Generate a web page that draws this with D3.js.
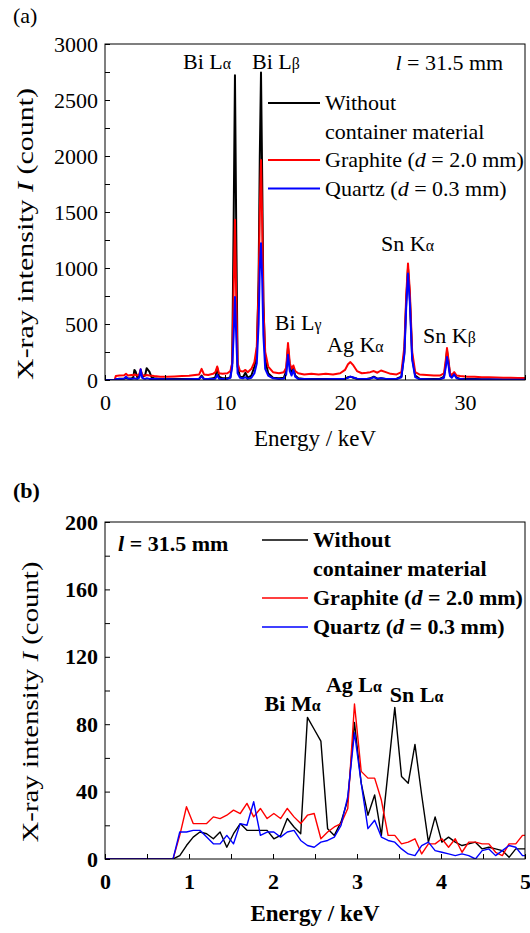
<!DOCTYPE html>
<html>
<head>
<meta charset="utf-8">
<script src="https://cdn.jsdelivr.net/npm/d3@7"></script>
<style>
  body { margin: 0; background: #fff; }
  text { font-family: "Liberation Serif", "Times New Roman", serif; }
</style>
</head>
<body>
<div id="chart"></div>
<script>
var w = 530;
var h = 933;

// ---- panel (a): full spectrum, 0-35 keV ----
var energyA = [0, 0.8, 0.9, 1.2, 1.6, 1.75, 1.9, 2.2, 2.35, 2.45,
  2.55, 2.7, 2.85, 2.97, 3.1, 3.25, 3.35, 3.47, 3.7, 3.9,
  4.1, 4.6, 5.2, 5.8, 6.4, 7.0, 7.5, 7.85, 8.05, 8.25,
  8.6, 9.0, 9.2, 9.35, 9.5, 9.8, 10.2, 10.45, 10.6, 10.72,
  10.83, 10.94, 11.05, 11.25, 11.5, 11.7, 11.9, 12.2, 12.45, 12.65,
  12.8, 12.9, 13.0, 13.1, 13.2, 13.35, 13.6, 14.0, 14.5, 14.9,
  15.1, 15.25, 15.4, 15.55, 15.7, 15.85, 16.1, 16.6, 17.2, 17.8,
  18.4, 19.0, 19.6, 20.0, 20.25, 20.45, 20.7, 21.0, 21.4, 21.8,
  22.1, 22.4, 22.7, 23.0, 23.4, 23.8, 24.3, 24.7, 24.95, 25.1,
  25.25, 25.4, 25.6, 25.85, 26.2, 26.8, 27.4, 27.9, 28.25, 28.4,
  28.5, 28.6, 28.75, 28.9, 29.1, 29.3, 29.6, 30.2, 30.8, 31.4,
  32.0, 32.6, 33.2, 33.8, 34.4, 35.0];

var withoutA = [0, 0, 6, 12, 14, 18, 15, 14, 22, 90,
  75, 20, 30, 85, 30, 35, 45, 105, 75, 20,
  15, 10, 10, 8, 9, 8, 10, 12, 40, 10,
  10, 15, 25, 110, 30, 15, 15, 25, 150, 1400,
  2720, 1300, 120, 30, 25, 65, 20, 40, 120, 230,
  900, 2000, 2745, 1800, 700, 180, 60, 20, 15, 20,
  80, 290, 120, 60, 110, 40, 15, 10, 8, 10,
  8, 10, 10, 12, 25, 30, 20, 12, 10, 10,
  15, 30, 12, 15, 10, 10, 12, 30, 250, 700,
  1000, 750, 200, 40, 12, 10, 8, 10, 30, 150,
  260, 180, 50, 30, 60, 20, 10, 8, 8, 6,
  6, 5, 5, 4, 4, 4];

var graphiteA = [0, 0, 35, 40, 42, 55, 40, 45, 42, 50,
  45, 40, 50, 95, 45, 40, 38, 45, 40, 38,
  35, 30, 28, 32, 35, 38, 45, 50, 100, 50,
  45, 55, 70, 120, 60, 55, 60, 80, 150, 800,
  1430, 700, 150, 80, 75, 90, 70, 100, 160, 300,
  800, 1500, 1965, 1400, 650, 250, 120, 70, 60, 70,
  110, 330, 150, 100, 130, 80, 60, 50, 55, 50,
  55, 50, 60, 90, 140, 160, 130, 80, 60, 65,
  70, 80, 65, 85, 70, 55, 50, 70, 300, 750,
  1040, 800, 250, 70, 50, 45, 40, 40, 60, 180,
  285, 200, 60, 45, 70, 40, 35, 30, 30, 25,
  25, 22, 20, 20, 18, 18];

var quartzA = [0, 0, 8, 10, 12, 30, 12, 10, 12, 15,
  12, 10, 20, 95, 20, 12, 10, 15, 10, 8,
  8, 6, 6, 5, 5, 6, 8, 10, 30, 8,
  8, 10, 12, 45, 12, 8, 10, 20, 120, 400,
  740, 380, 60, 20, 15, 25, 10, 20, 60, 150,
  500, 1000, 1220, 900, 400, 100, 40, 15, 10, 12,
  50, 225, 80, 40, 90, 30, 10, 8, 6, 6,
  6, 8, 8, 10, 20, 30, 22, 12, 8, 10,
  12, 25, 10, 15, 10, 8, 8, 25, 230, 650,
  950, 700, 180, 25, 8, 6, 5, 6, 20, 120,
  205, 150, 35, 20, 50, 15, 8, 5, 5, 4,
  4, 4, 3, 3, 3, 3];

// ---- panel (b): low energy region, 0-5 keV ----
var energyB = [0, 0.81, 0.89, 0.97, 1.05, 1.13, 1.21, 1.29, 1.37, 1.45,
  1.53, 1.61, 1.69, 1.77, 1.85, 1.93, 2.01, 2.09, 2.17, 2.25,
  2.33, 2.41, 2.49, 2.57, 2.65, 2.73, 2.81, 2.89, 2.97, 3.05,
  3.13, 3.21, 3.29, 3.37, 3.45, 3.53, 3.61, 3.69, 3.77, 3.85,
  3.93, 4.01, 4.09, 4.17, 4.25, 4.33, 4.41, 4.49, 4.57, 4.65,
  4.73, 4.81, 4.89, 4.97, 5.05];

var withoutB = [0, 0, 2, 8, 13, 16, 15, 12, 16, 7,
  15, 21, 17, 17, 17, 17, 12, 14, 24, 19,
  15, 84, 77, 70, 18, 14, 22, 35, 81, 45,
  26, 38, 14, 52, 90, 49, 45, 68, 38, 10,
  25, 10, 13, 10, 8, 9, 10, 6, 7, 6,
  5, 1, 6, 6, 6];

var graphiteB = [0, 0, 14, 31, 21, 21, 21, 25, 24, 26,
  29, 27, 33, 25, 30, 24, 27, 24, 30, 25,
  21, 26, 27, 12, 16, 19, 21, 30, 92, 52,
  48, 48, 35, 14, 14, 9, 10, 12, 3, 9,
  9, 12, 7, 12, 4, 10, 10, 9, 9, 4,
  2, 9, 9, 14, 14];

var quartzB = [0, 0, 16, 16, 17, 17, 13, 9, 9, 14,
  9, 21, 20, 34, 14, 16, 16, 13, 16, 17,
  11, 8, 7, 10, 11, 13, 20, 37, 75, 45,
  18, 23, 13, 11, 10, 6, 3, 2, 8, 10,
  5, 4, 3, 2, 3, 2, 0, 5, 6, 2,
  5, 8, 7, 2, 2];

var seriesNames = ["Without", "Graphite", "Quartz"];
var seriesColors = ["#000000", "#ff0000", "#0000ff"];

var labelsA = [
  { main: "Bi L", greek: "\u03b1", e: 6.5, c: 2780 },
  { main: "Bi L", greek: "\u03b2", e: 12.25, c: 2780 },
  { main: "Bi L", greek: "\u03b3", e: 14.15, c: 446 },
  { main: "Ag K", greek: "\u03b1", e: 18.5, c: 250 },
  { main: "Sn K", greek: "\u03b1", e: 23.0, c: 1150 },
  { main: "Sn K", greek: "\u03b2", e: 26.5, c: 330 }
];

var labelsB = [
  { main: "Bi M", greek: "\u03b1", e: 1.9, c: 88 },
  { main: "Ag L", greek: "\u03b1", e: 2.63, c: 99 },
  { main: "Sn L", greek: "\u03b1", e: 3.39, c: 93 }
];

var svg = d3.select("#chart").append("svg")
  .attr("width", w)
  .attr("height", h);

function drawPanel(p) {
  var x = d3.scaleLinear().domain([0, p.xMax]).range([p.left, p.right]);
  var y = d3.scaleLinear().domain([0, p.yMax]).range([p.bottom, p.top]);
  var weight = p.bold ? "bold" : "normal";

  var g = svg.append("g");

  g.append("clipPath").attr("id", p.id + "-clip")
    .append("rect")
    .attr("x", p.left).attr("y", p.top)
    .attr("width", p.right - p.left).attr("height", p.bottom - p.top);

  // series, black first so blue ends on top
  var line = d3.line()
    .x(function (d) { return x(d[0]); })
    .y(function (d) { return y(d[1]); });

  p.series.forEach(function (vals, i) {
    var pts = p.energy.map(function (e, j) { return [e, vals[j]]; });
    g.append("path")
      .datum(pts)
      .attr("clip-path", "url(#" + p.id + "-clip)")
      .attr("fill", "none")
      .attr("stroke", seriesColors[i])
      .attr("stroke-width", p.lineWidth)
      .attr("stroke-linejoin", "round")
      .attr("d", line);
  });

  // axes with inward ticks
  var xAxis = g.append("g")
    .attr("transform", "translate(0," + p.bottom + ")")
    .call(d3.axisBottom(x)
      .tickValues(p.xTicks)
      .tickSizeInner(-5).tickSizeOuter(0)
      .tickPadding(p.xPad)
      .tickFormat(function (d) { return p.xLabels.indexOf(d) >= 0 ? d : ""; }));

  var yAxis = g.append("g")
    .attr("transform", "translate(" + p.left + ",0)")
    .call(d3.axisLeft(y)
      .tickValues(p.yTicks)
      .tickSizeInner(-5).tickSizeOuter(0)
      .tickPadding(7)
      .tickFormat(function (d) { return p.yLabels.indexOf(d) >= 0 ? d : ""; }));

  [xAxis, yAxis].forEach(function (a) {
    a.attr("font-family", null).attr("font-size", null);
    a.select(".domain").remove();
    a.selectAll("line").attr("stroke", "#000");
    a.selectAll("text")
      .attr("fill", "#000")
      .style("font-size", p.fontSize + "px")
      .style("font-weight", weight);
  });

  g.append("rect")
    .attr("x", p.left).attr("y", p.top)
    .attr("width", p.right - p.left).attr("height", p.bottom - p.top)
    .attr("fill", "none")
    .attr("stroke", "#000")
    .attr("stroke-width", 1);

  // peak labels
  p.labels.forEach(function (l) {
    var t = g.append("text")
      .attr("x", x(l.e)).attr("y", y(l.c))
      .style("font-size", p.fontSize + "px")
      .style("font-weight", weight);
    t.append("tspan").text(l.main);
    t.append("tspan").text(l.greek).style("font-size", (p.fontSize * 0.72) + "px");
  });

  // l = 31.5 mm
  var lt = g.append("text")
    .attr("x", x(p.lenPos[0])).attr("y", y(p.lenPos[1]))
    .style("font-size", p.fontSize + "px")
    .style("font-weight", weight);
  lt.append("tspan").text("l").style("font-style", "italic");
  lt.append("tspan").text(" = 31.5 mm");

  // legend
  var lg = g.append("g").attr("transform", "translate(" + p.legend[0] + "," + p.legend[1] + ")");
  var rows = [
    { idx: 0, parts: [["Without", false]] },
    { idx: -1, parts: [["container material", false]] },
    { idx: 1, parts: [["Graphite (", false], ["d", true], [" = 2.0 mm)", false]] },
    { idx: 2, parts: [["Quartz (", false], ["d", true], [" = 0.3 mm)", false]] }
  ];
  rows.forEach(function (r, i) {
    var yy = i * p.legendStep;
    if (r.idx >= 0) {
      lg.append("line")
        .attr("x1", 0).attr("x2", p.legendLine)
        .attr("y1", yy - 7).attr("y2", yy - 7)
        .attr("stroke", seriesColors[r.idx])
        .attr("stroke-width", p.lineWidth);
    }
    var t = lg.append("text")
      .attr("x", p.legendLine + 5).attr("y", yy)
      .style("font-size", p.fontSize + "px")
      .style("font-weight", weight);
    r.parts.forEach(function (pt) {
      t.append("tspan").text(pt[0]).style("font-style", pt[1] ? "italic" : "normal");
    });
  });

  // axis titles
  g.append("text")
    .attr("x", (p.left + p.right) / 2).attr("y", p.xTitleY)
    .attr("text-anchor", "middle")
    .style("font-size", p.titleSize + "px")
    .style("font-weight", weight)
    .text("Energy / keV");

  var yt = g.append("text")
    .attr("transform", "translate(" + p.yTitleX + "," + p.yTitleMid + ") rotate(-90)")
    .attr("text-anchor", "middle")
    .attr("textLength", p.yTitleLen)
    .attr("lengthAdjust", "spacingAndGlyphs")
    .style("font-size", p.titleSize + "px");
  yt.append("tspan").text("X-ray intensity ");
  yt.append("tspan").text("I").style("font-style", "italic");
  yt.append("tspan").text(" (count)");

  g.append("text")
    .attr("x", 13).attr("y", p.tagY)
    .style("font-size", p.fontSize + "px")
    .style("font-weight", weight)
    .text(p.tag);
}

drawPanel({
  id: "a", tag: "(a)", tagY: 23, bold: false,
  left: 105, right: 525, top: 44, bottom: 380,
  xMax: 35, yMax: 3000,
  energy: energyA, series: [withoutA, graphiteA, quartzA],
  lineWidth: 2,
  xTicks: [0, 5, 10, 15, 20, 25, 30, 35], xLabels: [0, 10, 20, 30], xPad: 14,
  yTicks: d3.range(0, 3001, 250), yLabels: [0, 500, 1000, 1500, 2000, 2500, 3000],
  fontSize: 22, titleSize: 23,
  labels: labelsA, lenPos: [24.2, 2770],
  legend: [268, 110], legendLine: 52, legendStep: 28.5,
  xTitleY: 446, yTitleX: 33, yTitleMid: 234, yTitleLen: 292
});

drawPanel({
  id: "b", tag: "(b)", tagY: 498, bold: true,
  left: 105, right: 525, top: 522, bottom: 859,
  xMax: 5, yMax: 200,
  energy: energyB, series: [withoutB, graphiteB, quartzB],
  lineWidth: 1.4,
  xTicks: d3.range(0, 5.01, 0.5), xLabels: [0, 1, 2, 3, 4, 5], xPad: 14,
  yTicks: d3.range(0, 201, 20), yLabels: [0, 40, 80, 120, 160, 200],
  fontSize: 22, titleSize: 23,
  labels: labelsB, lenPos: [0.155, 183],
  legend: [262, 547], legendLine: 46, legendStep: 29,
  xTitleY: 921, yTitleX: 38, yTitleMid: 702, yTitleLen: 281
});
</script>
</body>
</html>
